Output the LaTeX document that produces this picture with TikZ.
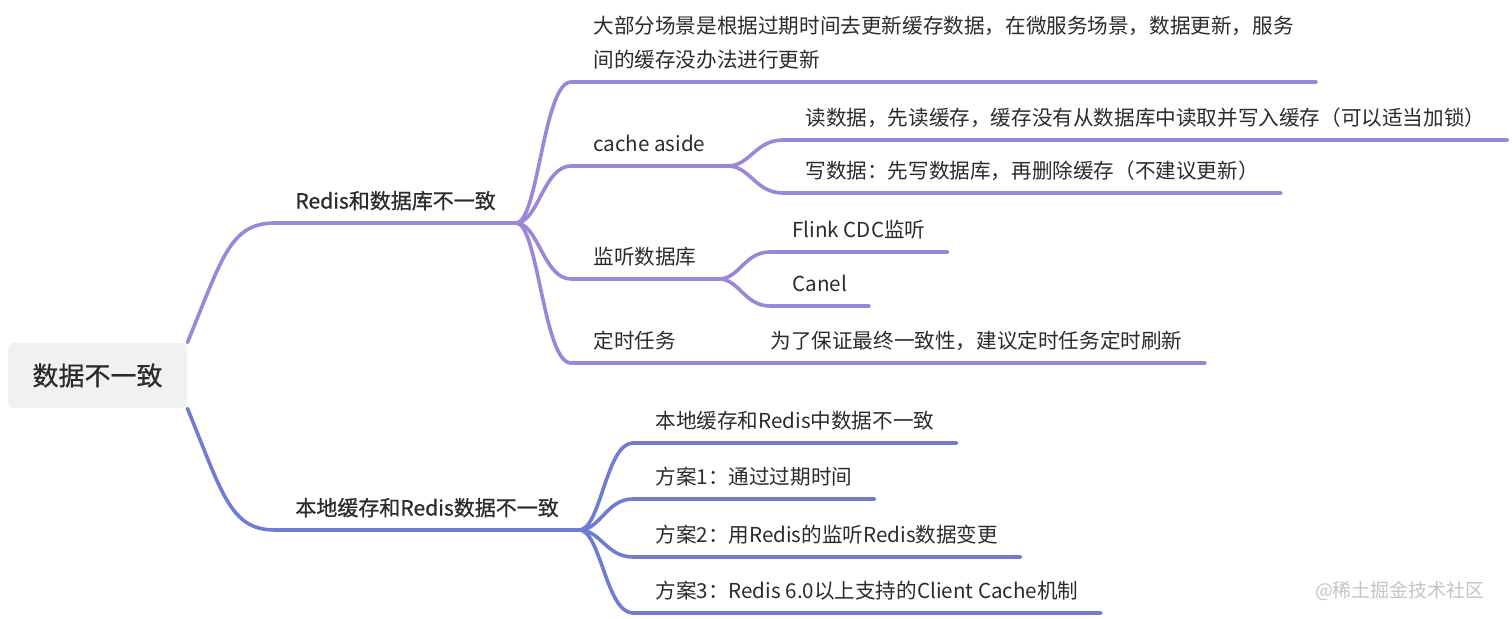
\documentclass[tikz,border=0pt]{standalone}
\usepackage{fontspec}
\setmainfont{Noto Sans CJK SC}
\newfontfamily\medfont[FakeBold=0.7]{Noto Sans CJK SC}
\usetikzlibrary{calc}
\definecolor{upcol}{HTML}{9B86DA}
\definecolor{lowcol}{HTML}{6E7DD3}
\definecolor{rootbg}{HTML}{F0F1F1}
\definecolor{txtcol}{HTML}{2B2B2B}
\definecolor{markcol}{HTML}{C4C4C4}

\begin{document}
\begin{tikzpicture}[
  x=0.5pt, y=-0.5pt,
  font=\fontsize{10.3}{17}\selectfont, text=txtcol,
  root/.style  = {fill=rootbg, rounded corners=3pt, minimum width=89.5pt,
                  minimum height=32.5pt, font=\medfont\fontsize{13}{15}\selectfont},
  topic/.style = {anchor=south west, inner xsep=11pt, inner ysep=7pt,
                  text depth=0pt, align=left},
  main/.style  = {topic, inner xsep=10pt,
                  font=\medfont\fontsize{10.5}{17}\selectfont},
  up/.style    = {draw=upcol, line width=1.8pt, line cap=round},
  low/.style   = {draw=lowcol, line width=1.8pt, line cap=round}]
\newcommand{\lk}[3]{\draw[#1] let \p1=(#2.south east), \p2=(#3.south west) in
  (\p1) .. controls ({\x1+0.4*(\x2-\x1)},\y1) and ({\x1+0.5*(\x2-\x1)},\y2)
  .. (\p2) -- (#3.south east);}
\useasboundingbox (0,0) rectangle (1512,619);

\node[root] (root) at (97.5,375.5) {数据不一致};
\node[main] (rdb) at (275,223) {Redis和数据库不一致};
\node[main] (loc) at (275,530) {本地缓存和Redis数据不一致};

\node[topic] (exp) at (571,82)
  {大部分场景是根据过期时间去更新缓存数据，在微服务场景，数据更新，服务\\间的缓存没办法进行更新};
\node[topic] (cas) at (571,166) {cache aside};
\node[topic] (lsn) at (571,279) {监听数据库};
\node[topic] (tim) at (571,363) {定时任务};

\node[topic] (rd) at (783,140)
  {读数据，先读缓存，缓存没有从数据库中读取并写入缓存（可以适当加锁）};
\node[topic] (wr) at (783,193) {写数据：先写数据库，再删除缓存（不建议更新）};
\node[topic] (flk) at (770,252) {Flink CDC监听};
\node[topic] (cnl) at (770,306) {Canel};
\node[topic] (fin) at (748,363) {为了保证最终一致性，建议定时任务定时刷新};

\node[topic] (sl0) at (633,443) {本地缓存和Redis中数据不一致};
\node[topic] (sl1) at (633,499) {方案1：通过过期时间};
\node[topic] (sl2) at (633,557) {方案2：用Redis的监听Redis数据变更};
\node[topic] (sl3) at (633,613) {方案3：Redis 6.0以上支持的Client Cache机制};

\node[text=markcol, font=\fontsize{9.5}{11}\selectfont] (mark) at (1400,591)
  {@稀土掘金技术社区};

% root to the two main topics
\draw[up] (root.north east) .. controls +(35,-85) and +(-45,0)
  .. (rdb.south west) -- (rdb.south east);
\draw[low] (root.south east) .. controls +(35,85) and +(-45,0)
  .. (loc.south west) -- (loc.south east);

\foreach \c in {exp,cas,lsn,tim} {\lk{up}{rdb}{\c}}
\foreach \c in {rd,wr} {\lk{up}{cas}{\c}}
\foreach \c in {flk,cnl} {\lk{up}{lsn}{\c}}
\lk{up}{tim}{fin}
\foreach \c in {sl0,sl1,sl2,sl3} {\lk{low}{loc}{\c}}
\end{tikzpicture}
\end{document}
